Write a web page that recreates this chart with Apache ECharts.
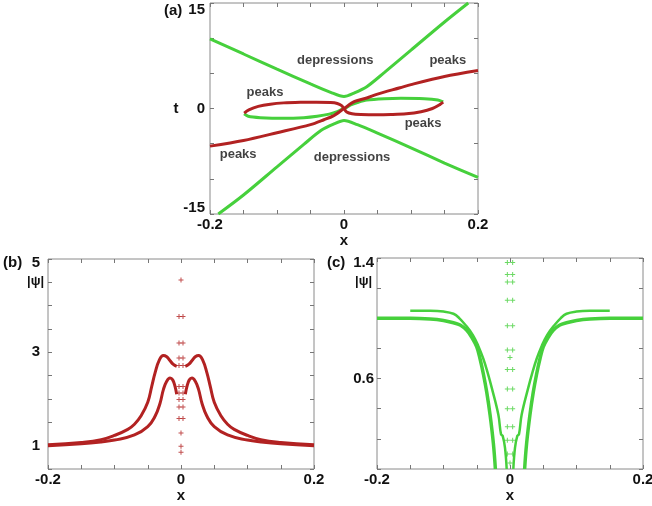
<!DOCTYPE html>
<html>
<head>
<meta charset="utf-8">
<script src="https://cdn.jsdelivr.net/npm/echarts@6/dist/echarts.min.js"></script>
<style>
  body { margin: 0; background: #fff; }
  #main { width: 652px; height: 506px; }
</style>
</head>
<body>
<div id="main"></div>
<script>
// tick labels that are shown
var xTicks = ['-0.2', '0', '0.2'];
var tTicks = ['-15', '0', '15'];
var bTicks = ['1', '3', '5'];
var cTicks = ['0.6', '1.4'];

// (a) trajectories in the (x, t) plane
var aGreenTop = [[-0.2, 9.9], [-0.15, 7.75], [-0.1, 5.6], [-0.05, 3.5], [-0.02, 2.3], [0, 1.7],
                 [0.015, 2.2], [0.034, 3.1], [0.06, 5.1], [0.1, 8.3], [0.15, 12.3], [0.1855, 15]];
var aGreenBottom = [[-0.1876, -15], [-0.15, -12.3], [-0.1, -8.3], [-0.06, -5.1], [-0.034, -3.1], [-0.015, -2.2],
                    [0, -1.7], [0.02, -2.3], [0.05, -3.5], [0.1, -5.6], [0.15, -7.75], [0.2, -9.8]];
var aGreenLoopL = [[-0.149, -0.75], [-0.143, -1.1], [-0.125, -1.3], [-0.09, -1.4], [-0.06, -1.3],
                   [-0.04, -1.1], [-0.022, -0.8], [-0.01, -0.45], [-0.002, -0.05]];
var aGreenLoopR = [[0.002, 0.05], [0.01, 0.5], [0.02, 0.85], [0.034, 1.2], [0.06, 1.4], [0.085, 1.46],
                   [0.12, 1.4], [0.14, 1.22], [0.148, 0.95]];
var aRedMain = [[-0.2, -5.35], [-0.15, -4.55], [-0.1, -3.45], [-0.05, -2.3], [-0.03, -1.6], [-0.016, -1.05],
                [0, 0], [0.016, 1.0], [0.034, 1.5], [0.05, 2.05], [0.0836, 2.95], [0.1, 3.4], [0.15, 4.55], [0.2, 5.4]];
var aRedLoopL = [[0, 0], [-0.004, 0.45], [-0.01, 0.72], [-0.02, 0.85], [-0.041, 0.9], [-0.065, 0.88],
                 [-0.09, 0.8], [-0.11, 0.62], [-0.128, 0.3], [-0.142, -0.2], [-0.149, -0.65]];
var aRedLoopR = [[0, 0], [0.004, -0.5], [0.012, -0.75], [0.025, -0.85], [0.049, -0.9], [0.07, -0.86],
                 [0.093, -0.75], [0.115, -0.45], [0.132, 0.0], [0.143, 0.55], [0.148, 0.9]];
// (a) text notes
var noteText = ['depressions', 'peaks', 'peaks', 'peaks', 'peaks', 'depressions'];
var noteX = [-0.013, 0.155, -0.118, 0.118, -0.158, 0.012];
var noteT = [6.9, 6.9, 2.35, -2.06, -6.6, -6.9];

// (b) |psi| at t = 0, peaks
var bOuterL = [[-0.2, 1.02], [-0.15, 1.07], [-0.12, 1.13], [-0.1, 1.22], [-0.08, 1.35], [-0.07, 1.46],
               [-0.06, 1.64], [-0.05, 1.93], [-0.044, 2.27], [-0.039, 2.56], [-0.0325, 2.84], [-0.0265, 2.93],
               [-0.022, 2.91], [-0.017, 2.83], [-0.0115, 2.74], [-0.0065, 2.7]];
var bOuterR = [[0.0065, 2.7], [0.0115, 2.74], [0.017, 2.83], [0.022, 2.91], [0.0265, 2.93], [0.0325, 2.84],
               [0.039, 2.56], [0.044, 2.27], [0.05, 1.93], [0.06, 1.64], [0.07, 1.46], [0.08, 1.35],
               [0.1, 1.22], [0.12, 1.13], [0.15, 1.07], [0.2, 1.02]];
var bInnerL = [[-0.2, 1.0], [-0.15, 1.04], [-0.12, 1.08], [-0.1, 1.12], [-0.07, 1.23], [-0.05, 1.41],
               [-0.039, 1.63], [-0.0315, 1.91], [-0.0265, 2.2], [-0.0215, 2.38], [-0.0165, 2.45],
               [-0.0125, 2.41], [-0.009, 2.27], [-0.0065, 2.1]];
var bInnerR = [[0.0065, 2.1], [0.009, 2.27], [0.0125, 2.41], [0.0165, 2.45], [0.0215, 2.38], [0.0265, 2.2],
               [0.0315, 1.91], [0.039, 1.63], [0.05, 1.41], [0.07, 1.23], [0.1, 1.12], [0.12, 1.08],
               [0.15, 1.04], [0.2, 1.0]];
var bDotsX = [0, -0.003, 0.003, -0.003, 0.003, -0.003, 0.003, -0.003, 0.003, -0.003, 0.003, -0.003, 0.003,
              -0.003, 0.003, -0.003, 0.003, -0.003, 0.003, 0, 0, 0];
var bDotsY = [4.55, 3.77, 3.77, 3.2, 3.2, 2.88, 2.88, 2.72, 2.72, 2.27, 2.27, 2.13, 2.13,
              1.99, 1.99, 1.83, 1.83, 1.58, 1.58, 1.27, 0.99, 0.86];

// (c) |psi| at t = 0, depressions
var cLongL = [[-0.2, 1.0], [-0.15, 1.0], [-0.12, 0.995], [-0.1, 0.985], [-0.085, 0.97], [-0.075, 0.955],
              [-0.065, 0.92], [-0.057, 0.87], [-0.05, 0.81], [-0.045, 0.73], [-0.04, 0.63], [-0.035, 0.51],
              [-0.03, 0.36], [-0.025, 0.17], [-0.022, 0.0]];
var cLongR = [[0.022, 0.0], [0.025, 0.17], [0.03, 0.36], [0.035, 0.51], [0.04, 0.63], [0.045, 0.73],
              [0.05, 0.81], [0.057, 0.87], [0.065, 0.92], [0.075, 0.955], [0.085, 0.97], [0.1, 0.985],
              [0.12, 0.995], [0.15, 1.0], [0.2, 1.0]];
var cShortL = [[-0.15, 1.05], [-0.12, 1.05], [-0.1, 1.045], [-0.085, 1.03], [-0.076, 1.0], [-0.066, 0.95],
               [-0.056, 0.89], [-0.048, 0.82], [-0.04, 0.73], [-0.033, 0.63], [-0.0275, 0.54], [-0.0175, 0.36],
               [-0.0135, 0.23], [-0.011, 0.22], [-0.0075, 0.14], [-0.005, 0.0]];
var cShortR = [[0.005, 0.0], [0.0075, 0.14], [0.011, 0.22], [0.0135, 0.23], [0.0175, 0.36], [0.0275, 0.54],
               [0.033, 0.63], [0.04, 0.73], [0.048, 0.82], [0.056, 0.89], [0.066, 0.95], [0.076, 1.0],
               [0.085, 1.03], [0.1, 1.045], [0.12, 1.05], [0.15, 1.05]];
var cDotsX = [-0.004, 0.004, -0.004, 0.004, -0.004, 0.004, -0.004, 0.004, -0.004, 0.004, -0.004, 0.004,
              0, -0.004, 0.004, -0.004, 0.004, -0.004, 0.004, -0.004, 0.004, -0.004, 0.004, -0.004, 0.004, 0];
var cDotsY = [1.37, 1.37, 1.29, 1.29, 1.24, 1.24, 1.12, 1.12, 0.95, 0.95, 0.79, 0.79,
              0.74, 0.66, 0.66, 0.53, 0.53, 0.40, 0.40, 0.28, 0.28, 0.19, 0.19, 0.10, 0.10, 0.04];

var RED = '#b22222';
var GREEN = '#46d03c';
var FONT = 'Liberation Sans, Arial, sans-serif';

var grids = [
    {left: 210, top: 3, width: 268, height: 211},
    {left: 48, top: 259, width: 266, height: 210},
    {left: 377, top: 258, width: 266, height: 211}
];

function fmt(labels, topLab, botLab) {
    return function (v) {
        var s = String(+v.toFixed(3));
        if (labels.indexOf(s) < 0) return '';
        if (s === topLab) return '{t|' + s + '}';
        if (s === botLab) return '{b|' + s + '}';
        return s;
    };
}

var labelStyle = {color: '#111', fontFamily: FONT, fontWeight: 'bold', fontSize: 15};

function axis(gi, pos, min, max, interval, label, margin, name, nameGap, rich) {
    var a = {
        type: 'value', gridIndex: gi, position: pos, min: min, max: max, interval: interval,
        splitLine: {show: false},
        axisLine: {show: false, onZero: false},
        axisTick: {inside: true, length: 4, lineStyle: {color: '#777'}},
        axisLabel: {show: false}
    };
    if (label) {
        a.axisLabel = {show: true, formatter: label, margin: margin, showMinLabel: true, showMaxLabel: true,
                       color: '#111', fontFamily: FONT, fontWeight: 'bold', fontSize: 15, rich: rich || {}};
    }
    if (name) {
        a.name = name;
        a.nameLocation = 'middle';
        a.nameGap = nameGap;
        a.nameRotate = 0;
        a.nameTextStyle = labelStyle;
    }
    return a;
}

var shiftRich = function (d) {
    return {
        t: {padding: [d, 0, 0, 0], color: '#111', fontFamily: FONT, fontWeight: 'bold', fontSize: 15},
        b: {padding: [0, 0, d, 0], color: '#111', fontFamily: FONT, fontWeight: 'bold', fontSize: 15}
    };
};

var xAxes = [], yAxes = [];
var yCfg = [
    [-15, 15, 5, fmt(tTicks, '15', '-15'), 5, 't', 26, shiftRich(13)],
    [0.5, 5, 0.5, fmt(bTicks, '5', null), 8, null, 0, shiftRich(8)],
    [0, 1.4, 0.2, fmt(cTicks, '1.4', null), 3, null, 0, shiftRich(9)]
];
for (var g = 0; g < 3; g++) {
    xAxes.push(axis(g, 'bottom', -0.2, 0.2, 0.05, fmt(xTicks), 3, 'x', 19));
    xAxes.push(axis(g, 'top', -0.2, 0.2, 0.05));
    var c = yCfg[g];
    yAxes.push(axis(g, 'left', c[0], c[1], c[2], c[3], c[4], c[5], c[6], c[7]));
    yAxes.push(axis(g, 'right', c[0], c[1], c[2]));
}

function line(g, data, color, width, smooth) {
    return {
        type: 'line', xAxisIndex: 2 * g, yAxisIndex: 2 * g, data: data,
        showSymbol: false, smooth: smooth || 0.3, lineStyle: {color: color, width: width}, silent: true
    };
}

function dots(g, xs, ys, color) {
    var d = [];
    for (var i = 0; i < xs.length; i++) d.push([xs[i], ys[i]]);
    return {
        type: 'scatter', xAxisIndex: 2 * g, yAxisIndex: 2 * g, data: d,
        symbol: 'path://M2,0H3V2H5V3H3V5H2V3H0V2H2Z', symbolSize: 5,
        itemStyle: {color: color}, silent: true
    };
}

var notes = [];
for (var i = 0; i < noteText.length; i++) {
    notes.push({value: [noteX[i], noteT[i]], name: noteText[i]});
}

var series = [
    line(0, aGreenTop, GREEN, 3),
    line(0, aGreenBottom, GREEN, 3),
    line(0, aGreenLoopL, GREEN, 3),
    line(0, aGreenLoopR, GREEN, 3),
    line(0, aRedMain, RED, 3),
    line(0, aRedLoopL, RED, 3),
    line(0, aRedLoopR, RED, 3),
    {
        type: 'scatter', xAxisIndex: 0, yAxisIndex: 0, data: notes, symbolSize: 0, silent: true,
        label: {show: true, position: 'inside', formatter: function (p) { return p.name; },
                color: '#111', fontFamily: FONT, fontWeight: 'bold', fontSize: 13}
    },
    line(1, bOuterL, RED, 3, 0.45),
    line(1, bOuterR, RED, 3, 0.45),
    line(1, bInnerL, RED, 3, 0.45),
    line(1, bInnerR, RED, 3, 0.45),
    dots(1, bDotsX, bDotsY, RED),
    line(2, cLongL, GREEN, 3.5, 0.4),
    line(2, cLongR, GREEN, 3.5, 0.4),
    line(2, cShortL, GREEN, 2.5, 0.4),
    line(2, cShortR, GREEN, 2.5, 0.4),
    dots(2, cDotsX, cDotsY, GREEN)
];

var txt = function (x, y, s, size) {
    return {type: 'text', left: x, top: y,
            style: {text: s, fill: '#111', font: 'bold ' + size + 'px ' + FONT}};
};

var myChart = echarts.init(document.getElementById('main'));
var option = {
    animation: false,
    backgroundColor: '#fff',
    grid: grids.map(function (r) {
        return {left: r.left, top: r.top, width: r.width, height: r.height, show: true,
                borderColor: '#8a8a8a', borderWidth: 1, backgroundColor: 'transparent',
                containLabel: false, outerBoundsMode: 'none'};
    }),
    xAxis: xAxes,
    yAxis: yAxes,
    series: series,
    graphic: [
        txt(164, 3, '(a)', 15),
        txt(3, 255, '(b)', 15),
        txt(327, 255, '(c)', 15),
        txt(27, 275, '|\u03c8|', 13),
        txt(355, 275, '|\u03c8|', 13)
    ]
};
myChart.setOption(option);
</script>
</body>
</html>
